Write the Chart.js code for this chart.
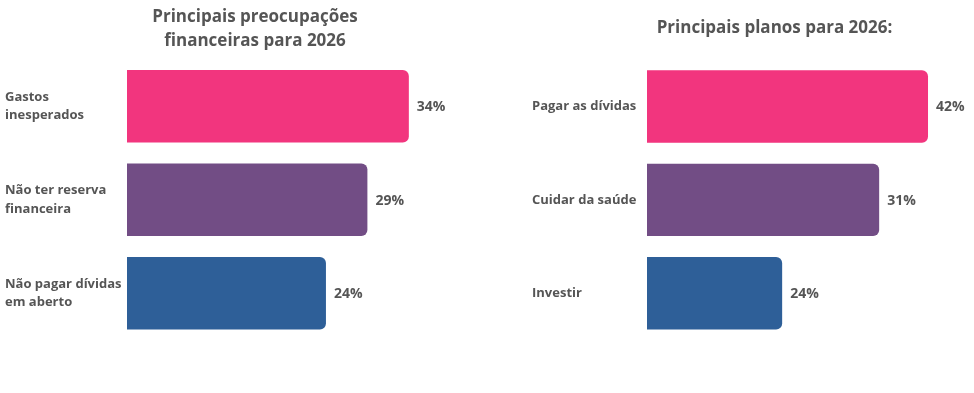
<!DOCTYPE html>
<html>
<head>
<meta charset="utf-8">
<script src="https://cdn.jsdelivr.net/npm/chart.js@4/dist/chart.umd.min.js"></script>
<style>
  html, body { margin: 0; padding: 0; background: #fff; overflow: hidden; width: 974px; height: 393px; }
  canvas { position: absolute; top: 0; }
  #left { left: 0; }
  #right { left: 530px; }
</style>
</head>
<body>
<canvas id="left" width="505" height="393"></canvas>
<canvas id="right" width="487" height="393"></canvas>
<script>
// left chart: worries
const leftTitle = ["Principais preocupações", "financeiras para 2026"];
const leftCategories = [["Gastos", "inesperados"], ["Não ter reserva", "financeira"], ["Não pagar dívidas", "em aberto"]];
const leftValues = [34, 29, 24];
const leftLabels = ["34%", "29%", "24%"];

// right chart: plans (bar lengths as drawn in the picture)
const rightTitle = "Principais planos para 2026:";
const rightCategories = ["Pagar as dívidas", "Cuidar da saúde", "Investir"];
const rightValues = [42, 34.7, 20.2];
const rightLabels = ["42%", "31%", "24%"];

const barColors = ["#F2357E", "#724D85", "#2E5F98"];
const textColor = "#555555";
const fontFamily = "'Open Sans', sans-serif";

// draws the percentage text right after each bar
const valueLabels = {
  id: "valueLabels",
  afterDatasetsDraw(chart, args, opts) {
    const ctx = chart.ctx;
    const meta = chart.getDatasetMeta(0);
    ctx.save();
    ctx.fillStyle = textColor;
    ctx.font = "bold 14px " + fontFamily;
    ctx.textBaseline = "middle";
    ctx.textAlign = "left";
    meta.data.forEach((bar, i) => {
      ctx.fillText(opts.texts[i], bar.x + opts.gap, bar.y + 1);
    });
    ctx.restore();
  },
};

function makeChart(id, cfg) {
  return new Chart(document.getElementById(id), {
    type: "bar",
    data: {
      labels: cfg.categories,
      datasets: [{
        data: cfg.values,
        backgroundColor: barColors,
        borderRadius: 6,
        borderSkipped: "start",
        categoryPercentage: 1,
        barPercentage: 0.775,
      }],
    },
    options: {
      indexAxis: "y",
      responsive: false,
      animation: false,
      layout: { padding: { left: cfg.padLeft, right: 0, top: 0, bottom: 53 } },
      scales: {
        x: { display: false, min: 0, max: cfg.max },
        y: {
          grid: { display: false, drawTicks: false },
          border: { display: false },
          ticks: {
            crossAlign: "far",
            padding: 0,
            color: textColor,
            font: { family: fontFamily, size: 13, weight: "bold", lineHeight: 1.4 },
          },
          afterFit(scale) { scale.width = cfg.axisWidth; },
        },
      },
      plugins: {
        legend: { display: false },
        tooltip: { enabled: false },
        title: {
          display: true,
          text: cfg.title,
          color: textColor,
          font: { family: fontFamily, size: 17, weight: "bold", lineHeight: 1.4 },
          padding: cfg.titlePadding,
        },
        valueLabels: { texts: cfg.texts, gap: 8 },
      },
    },
    plugins: [valueLabels],
  });
}

makeChart("left", {
  categories: leftCategories,
  values: leftValues,
  texts: leftLabels,
  title: leftTitle,
  titlePadding: { top: 5, bottom: 7 },
  padLeft: 5,
  axisWidth: 122,
  max: 45.6,
});

makeChart("right", {
  categories: rightCategories,
  values: rightValues,
  texts: rightLabels,
  title: rightTitle,
  titlePadding: { top: 16, bottom: 20 },
  padLeft: 2,
  axisWidth: 115,
  max: 55.3,
});
</script>
</body>
</html>
